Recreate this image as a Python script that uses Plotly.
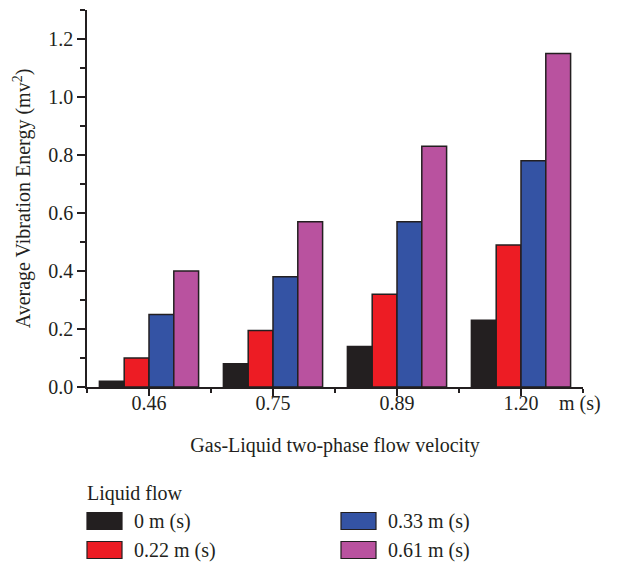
import plotly.graph_objects as go

# ---- data ----
categories = ["0.46", "0.75", "0.89", "1.20"]
series_names = ["0 m (s)", "0.22 m (s)", "0.33 m (s)", "0.61 m (s)"]
values_0 = [0.02, 0.08, 0.14, 0.23]
values_022 = [0.10, 0.195, 0.32, 0.49]
values_033 = [0.25, 0.38, 0.57, 0.78]
values_061 = [0.40, 0.57, 0.83, 1.15]
series_values = [values_0, values_022, values_033, values_061]
colors = ["#231f20", "#ed1c24", "#3453a4", "#b9529f"]
y_ticks = [0.0, 0.2, 0.4, 0.6, 0.8, 1.0, 1.2]

FONT = "Liberation Serif"
FS = 20
INK = "#231f20"
TXT = "#231f20"

W, H = 617, 563
L, R, T, B = 87, 34, 10, 176
PW, PH = W - L - R, H - T - B

def px_x(px):
    return (px - L) / PW

def px_y(py):
    return (H - B - py) / PH

x_idx = list(range(len(categories)))

fig = go.Figure()
for name, vals, col in zip(series_names, series_values, colors):
    fig.add_trace(go.Bar(
        x=x_idx, y=vals, name=name,
        marker=dict(color=col, line=dict(color=INK, width=1.5)),
        showlegend=False,
    ))

fig.update_layout(
    width=W, height=H,
    margin=dict(l=L, r=R, t=T, b=B),
    paper_bgcolor="white", plot_bgcolor="white",
    barmode="group", bargap=0.2, bargroupgap=0,
    font=dict(family=FONT, size=FS, color=TXT),
)

fig.update_xaxes(
    range=[-0.5, len(categories) - 0.5],
    tickmode="array", tickvals=x_idx, ticktext=categories,
    ticks="outside", ticklen=7, tickwidth=1.5, tickcolor=INK,
    ticklabelstandoff=-10,
    showline=True, linecolor=INK, linewidth=1.5,
    showgrid=False, zeroline=False,
    minor=dict(tickmode="array",
               tickvals=[i - 0.5 for i in range(len(categories) + 1)],
               ticks="outside", ticklen=4, tickwidth=1.5, tickcolor=INK),
    title=dict(text="Gas-Liquid two-phase flow velocity",
               font=dict(family=FONT, size=FS, color=TXT), standoff=25),
    tickfont=dict(family=FONT, size=FS, color=TXT),
)

fig.update_yaxes(
    range=[0, 1.3],
    tickmode="array", tickvals=y_ticks, ticktext=[f"{v:.1f}" for v in y_ticks],
    ticks="outside", ticklen=8, tickwidth=1.5, tickcolor=INK,
    showline=True, linecolor=INK, linewidth=1.5,
    showgrid=False, zeroline=False,
    minor=dict(dtick=0.1, tick0=0, ticks="outside", ticklen=5,
               tickwidth=1.5, tickcolor=INK),
    title=dict(text="Average Vibration Energy (mv<sup>2</sup>)",
               font=dict(family=FONT, size=FS, color=TXT), standoff=12),
    tickfont=dict(family=FONT, size=FS, color=TXT),
)

# unit label at the right end of the x axis
fig.add_annotation(xref="paper", yref="paper", x=px_x(557), y=px_y(403),
                   text="m (s)", showarrow=False, xanchor="left", yanchor="middle",
                   font=dict(family=FONT, size=FS, color=TXT))

# ---- custom legend ----
fig.add_annotation(xref="paper", yref="paper", x=px_x(85), y=px_y(493),
                   text="Liquid flow", showarrow=False, xanchor="left", yanchor="middle",
                   font=dict(family=FONT, size=FS, color=TXT))
col_x = [87, 341]
row_y = [521, 550]
sw_w, sw_h = 35, 17
for i, (name, col) in enumerate(zip(series_names, colors)):
    c, r = i // 2, i % 2
    x0 = col_x[c]
    yc = row_y[r]
    fig.add_shape(type="rect", xref="paper", yref="paper",
                  x0=px_x(x0), x1=px_x(x0 + sw_w),
                  y0=px_y(yc + sw_h / 2), y1=px_y(yc - sw_h / 2),
                  fillcolor=col, line=dict(color=INK, width=1.2))
    fig.add_annotation(xref="paper", yref="paper", x=px_x(x0 + 45), y=px_y(yc),
                       text=name, showarrow=False, xanchor="left", yanchor="middle",
                       font=dict(family=FONT, size=FS, color=TXT))

fig.write_html("out.html")
